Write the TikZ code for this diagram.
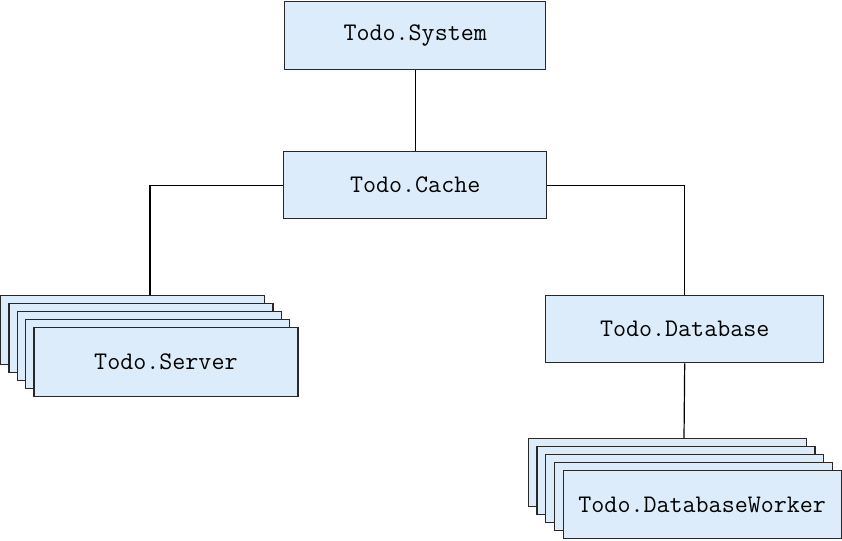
\documentclass[tikz,border=0pt]{standalone}
\usepackage{fontspec}
\definecolor{boxfill}{RGB}{221,236,250}
\definecolor{boxline}{RGB}{40,40,40}
\begin{document}
\begin{tikzpicture}[x=1pt,y=-1pt,
  modbox/.style={draw=boxline,fill=boxfill,line width=1.4pt,inner sep=0pt,
    font=\fontsize{25.3}{28}\selectfont\ttfamily,anchor=north west},
  conn/.style={draw=black,line width=1.2pt}]
\useasboundingbox (0,0) rectangle (842,540);
% top boxes
\node[modbox,minimum width=261pt,minimum height=68pt] (sys) at (284,1) {Todo.System};
\node[modbox,minimum width=263pt,minimum height=67pt] (cache) at (283,151) {Todo.Cache};
\node[modbox,minimum width=278pt,minimum height=67pt] (db) at (545,295) {Todo.Database};
% server stack
\foreach \i in {0,1,2,3}{
  \node[modbox,minimum width=264pt,minimum height=69pt] (srv\i) at ({0+8.3*\i},{295+8*\i}) {};
}
\node[modbox,minimum width=264pt,minimum height=69pt] (srv) at (33.2,327) {Todo.Server};
% worker stack
\foreach \i in {0,1,2,3}{
  \node[modbox,minimum width=278pt,minimum height=68pt] (wrk\i) at ({527.5+8.75*\i},{438+8*\i}) {};
}
\node[modbox,minimum width=278pt,minimum height=68pt] (wrk) at (562.5,470) {Todo.DatabaseWorker};
% connectors
\draw[conn] (sys.south) -- (cache.north);
\coordinate (srvtop) at (150,295);
\draw[conn] (cache.west) -| (srvtop);
\draw[conn] (cache.east) -| (db.north);
\coordinate (wrktop) at (684,438);
\draw[conn] (db.south) -- (wrktop);
\end{tikzpicture}
\end{document}
